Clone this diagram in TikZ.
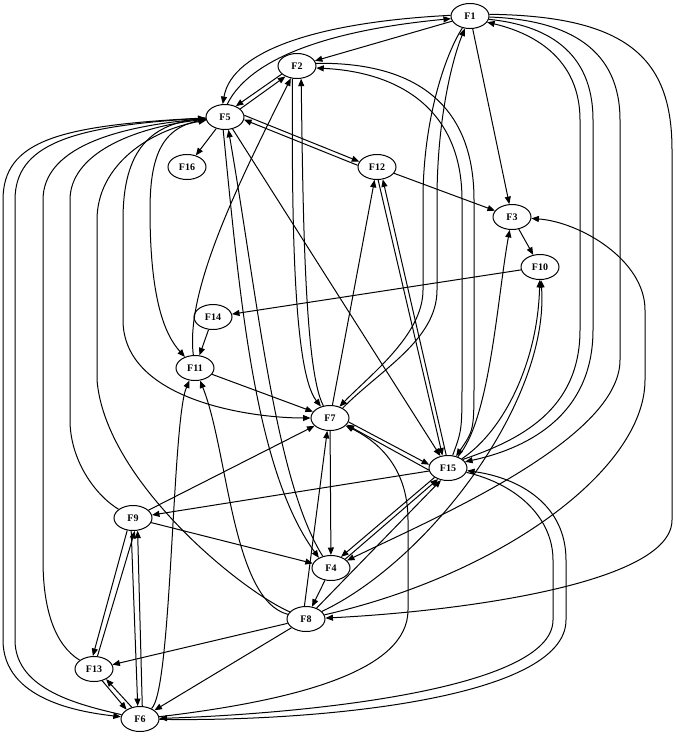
\documentclass[tikz,border=0pt]{standalone}
\usepackage{fontspec}
\setmainfont{Liberation Serif}
\usetikzlibrary{arrows.meta,shapes.geometric}
\tikzset{
  nodo/.style={draw, ellipse, line width=1pt, minimum width=38pt, minimum height=25pt, inner sep=0pt, font=\fontsize{10}{12}\selectfont\bfseries},
  fl/.style={-{Triangle[length=7.5pt,width=6pt]}, line width=1pt},
}
\begin{document}
\begin{tikzpicture}[x=1pt, y=-1pt]
  \useasboundingbox (0,0) rectangle (676,736);
  \node[nodo] (F1)  at (470,16)  {F1};
  \node[nodo] (F2)  at (297,66)  {F2};
  \node[nodo] (F5)  at (225,117) {F5};
  \node[nodo] (F16) at (187,167) {F16};
  \node[nodo] (F12) at (377,167) {F12};
  \node[nodo] (F3)  at (512,217) {F3};
  \node[nodo] (F10) at (540,267) {F10};
  \node[nodo] (F14) at (213,317) {F14};
  \node[nodo] (F11) at (195,368) {F11};
  \node[nodo] (F7)  at (330,418) {F7};
  \node[nodo] (F15) at (448,468) {F15};
  \node[nodo] (F9)  at (133,518) {F9};
  \node[nodo] (F4)  at (331,568) {F4};
  \node[nodo] (F8)  at (306,619) {F8};
  \node[nodo] (F13) at (94,669)  {F13};
  \node[nodo] (F6)  at (140,719) {F6};
  % arriba
  \draw[fl] (F1.178) .. controls (320,22) and (232,50) .. (F5.100);
  \draw[fl] (F5.80) .. controls (250,58) and (330,30) .. (F1.188);
  \draw[fl] (F1) -- (F2);
  \draw[fl] (F1) -- (F3);
  \draw[fl] (F2.208) -- (F5.45);
  \draw[fl] (F5.28) -- (F2.222);
  \draw[fl] (F2.250) .. controls (292,200) and (292,370) .. (F7);
  \draw[fl] (F7) .. controls (304,370) and (303,200) .. (F2.288);
  \draw[fl] (F15) .. controls (462,430) .. (462,380) -- (462,200) .. controls (462,110) and (400,72) .. (F2.-6);
  \draw[fl] (F2.8) .. controls (410,62) and (474,100) .. (474,200) -- (474,380) .. controls (474,430) .. (F15);
  \draw[fl] (F7.38) .. controls (380,370) and (437,340) .. (437,290) -- (437,200) .. controls (437,120) and (452,60) .. (F1);
  \draw[fl] (F1) .. controls (445,55) and (423,120) .. (423,200) -- (423,290) .. controls (423,335) and (370,375) .. (F7.50);
  \draw[fl] (F15.30) .. controls (520,440) and (580,410) .. (580,330) -- (580,120) .. controls (580,50) and (520,30) .. (F1.-20);
  \draw[fl] (F1.-10) .. controls (545,25) and (593,50) .. (593,120) -- (593,330) .. controls (593,420) and (520,450) .. (F15.20);
  \draw[fl] (F1.-3) .. controls (570,20) and (620,50) .. (620,120) -- (620,360) .. controls (620,440) and (430,520) .. (F4.25);
  \draw[fl] (F1.5) .. controls (630,16) and (672,60) .. (672,150) -- (672,520) .. controls (672,585) and (450,612) .. (F8);
  % F5, F12
  \draw[fl] (F5) -- (F16);
  \draw[fl] (F5.5) -- (F12.163);
  \draw[fl] (F12.175) -- (F5.-8);
  \draw[fl] (F12) -- (F3);
  \draw[fl] (F7) -- (F12);
  \draw[fl] (F12.-85) -- (F15.114);
  \draw[fl] (F15.98) -- (F12.-65);
  \draw[fl] (F3) -- (F10);
  \draw[fl] (F10) -- (F14);
  \draw[fl] (F14) -- (F11);
  \draw[fl] (F11) .. controls (185,290) and (240,180) .. (F2);
  \draw[fl] (F11) -- (F7);
  \draw[fl] (F5) .. controls (165,125) and (150,150) .. (150,210) .. controls (150,300) and (165,335) .. (F11);
  \draw[fl] (F5) .. controls (150,122) and (123,150) .. (123,220) -- (123,320) .. controls (123,400) and (250,418) .. (F7);
  \draw[fl] (F5) -- (F15);
  \draw[fl] (F5.262) .. controls (240,300) and (255,470) .. (F4.140);
  \draw[fl] (F4.125) .. controls (275,480) and (258,300) .. (F5.285);
  % izquierda
  \draw[fl] (F5) .. controls (60,125) and (3,140) .. (3,200) -- (3,640) .. controls (3,700) and (80,712) .. (F6);
  \draw[fl] (F6) .. controls (80,705) and (15,690) .. (15,640) -- (15,200) .. controls (15,145) and (70,126) .. (F5);
  \draw[fl] (F13) .. controls (55,645) and (43,610) .. (43,560) -- (43,200) .. controls (43,150) and (110,127) .. (F5);
  \draw[fl] (F9) .. controls (95,495) and (70,460) .. (70,420) -- (70,200) .. controls (70,155) and (130,128) .. (F5);
  \draw[fl] (F8) .. controls (240,590) and (105,480) .. (97,380) -- (97,220) .. controls (97,165) and (150,130) .. (F5);
  % centro
  \draw[fl] (F7.-12) -- (F15.170);
  \draw[fl] (F15.186) -- (F7.-22);
  \draw[fl] (F7) -- (F4);
  \draw[fl] (F4) -- (F8);
  \draw[fl] (F8.97) -- (F7.258);
  \draw[fl] (F8) .. controls (232,600) and (228,450) .. (F11);
  \draw[fl] (F6) .. controls (172,690) and (172,420) .. (F11);
  \draw[fl] (F8) -- (F13);
  \draw[fl] (F8) -- (F6);
  \draw[fl] (F8) -- (F15.240);
  \draw[fl] (F8) .. controls (430,560) and (550,400) .. (F10);
  \draw[fl] (F15) .. controls (505,430) and (538,360) .. (F10);
  \draw[fl] (F8) .. controls (500,575) and (645,470) .. (645,380) -- (645,310) .. controls (645,260) and (580,222) .. (F3);
  \draw[fl] (F15) .. controls (490,420) and (497,300) .. (F3);
  \draw[fl] (F15) -- (F9);
  \draw[fl] (F15.215) -- (F4.48);
  \draw[fl] (F4.32) -- (F15.228);
  \draw[fl] (F15) .. controls (520,485) and (553,520) .. (553,560) -- (553,620) .. controls (553,690) and (300,714) .. (F6);
  \draw[fl] (F6) .. controls (310,722) and (566,700) .. (566,620) -- (566,560) .. controls (566,505) and (520,478) .. (F15);
  \draw[fl] (F6) .. controls (300,700) and (408,670) .. (408,610) -- (408,520) .. controls (408,465) and (375,440) .. (F7);
  % abajo
  \draw[fl] (F9) -- (F4);
  \draw[fl] (F9) -- (F7);
  \draw[fl] (F9.245) -- (F13.95);
  \draw[fl] (F13.75) -- (F9.278);
  \draw[fl] (F9.262) -- (F6.100);
  \draw[fl] (F6.80) -- (F9.290);
  \draw[fl] (F13.-55) -- (F6.145);
  \draw[fl] (F6.125) -- (F13.-40);
\end{tikzpicture}
\end{document}
